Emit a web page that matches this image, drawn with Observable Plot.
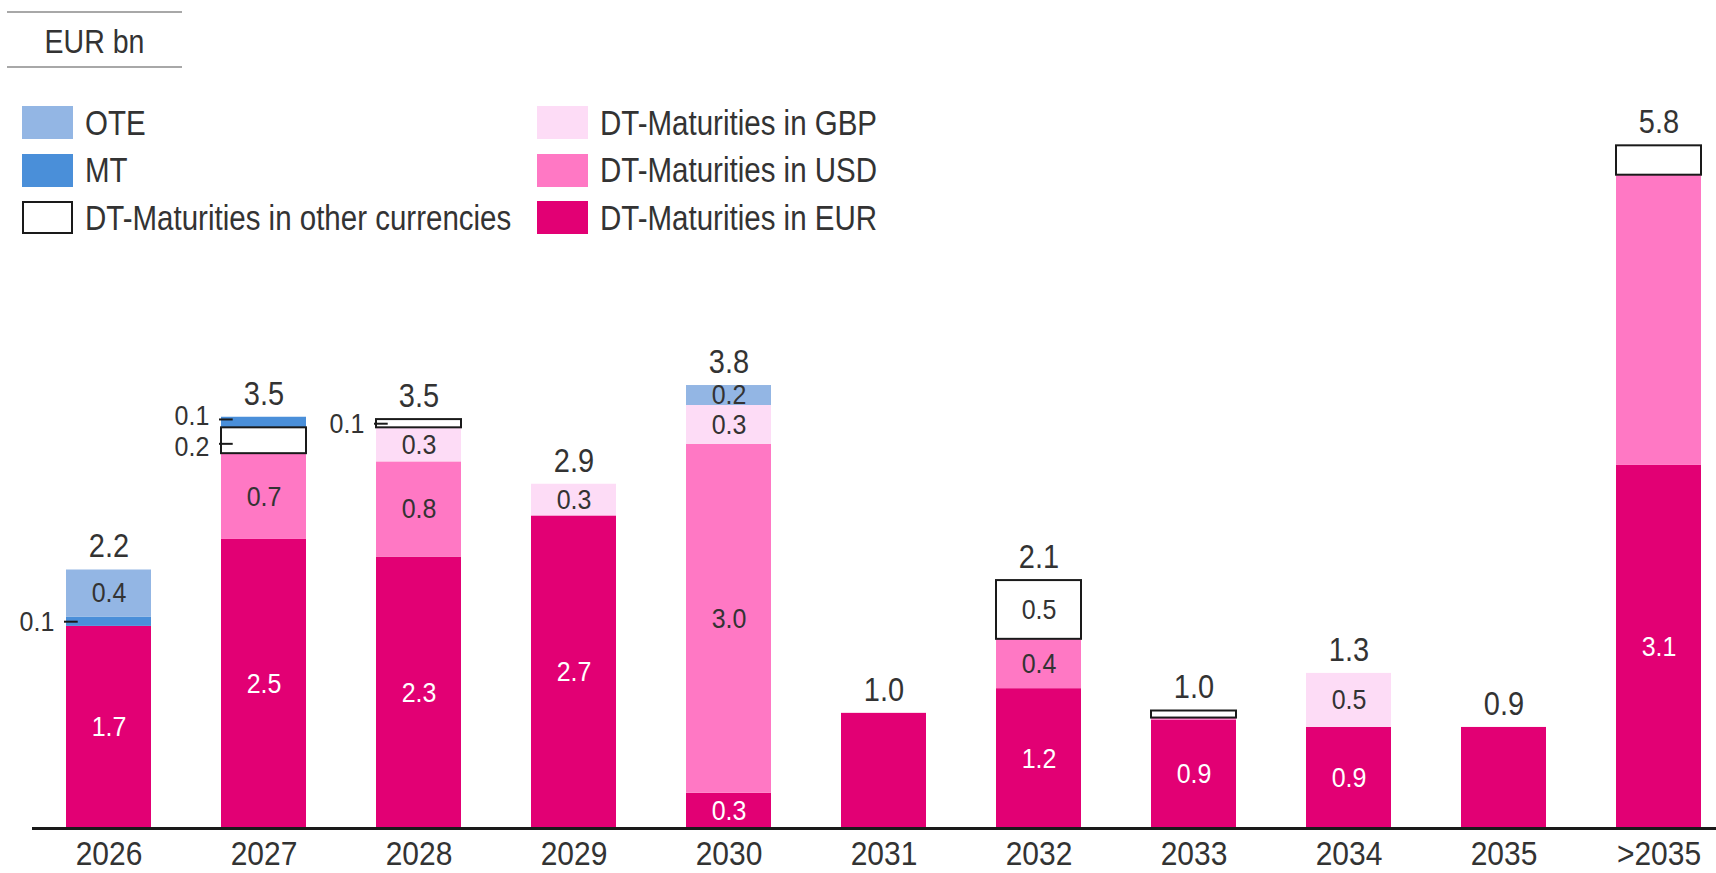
<!DOCTYPE html>
<html>
<head>
<meta charset="utf-8">
<script src="https://cdn.jsdelivr.net/npm/d3@7"></script>
<script src="https://cdn.jsdelivr.net/npm/@observablehq/plot@0.6"></script>
<style>
  html, body { margin: 0; padding: 0; background: #fff; }
  #wrap { position: relative; width: 1716px; height: 873px; overflow: hidden;
          font-family: "Liberation Sans", Arial, sans-serif; color: #333; }
  #chart { position: absolute; left: 0; top: 0; }
  #unit { position: absolute; left: 7px; top: 11px; width: 175px; height: 53px;
          border-top: 2px solid #a8a8a8; border-bottom: 2px solid #a8a8a8;
          display: flex; align-items: center; justify-content: center; font-size: 28.5px; }
  #unit .tx { position: relative; top: 2px; }
  .lg { position: absolute; display: flex; align-items: center; height: 33px;
        font-size: 29.5px; white-space: nowrap; }
  .sw { width: 51px; height: 33px; box-sizing: border-box; margin-right: 12px; flex: none; }
  .tx { display: inline-block; transform: scaleY(1.16); }
</style>
</head>
<body>
<div id="wrap">
  <div id="chart"></div>
  <div id="unit"><span class="tx" id="unitText"></span></div>
  <div id="legend"></div>
</div>
<script>
// ---------------- DATA ----------------
const years = ["2026", "2027", "2028", "2029", "2030", "2031", "2032", "2033", "2034", "2035", ">2035"];
const eur   = [1.72, 2.46, 2.31, 2.66, 0.30, 0.98, 1.19, 0.92, 0.86, 0.86, 3.09];
const usd   = [0,    0.73, 0.81, 0,    2.97, 0,    0.42, 0.02, 0,    0,    2.47];
const gbp   = [0,    0,    0.29, 0.27, 0.33, 0,    0,    0,    0.46, 0,    0];
const other = [0,    0.22, 0.07, 0,    0,    0,    0.50, 0.06, 0,    0,    0.25];
const mt    = [0.08, 0.09, 0,    0,    0,    0,    0,    0,    0,    0,    0];
const ote   = [0.40, 0,    0,    0,    0.17, 0,    0,    0,    0,    0,    0];

// stacking order, bottom to top
const seriesKeys  = ["EUR", "USD", "GBP", "other", "MT", "OTE"];
const seriesNames = ["DT-Maturities in EUR", "DT-Maturities in USD", "DT-Maturities in GBP",
                     "DT-Maturities in other currencies", "MT", "OTE"];
const legendOrder = ["OTE", "MT", "other", "GBP", "USD", "EUR"];
const unitLabel = "EUR bn";

// segments labelled outside the bar (with a leader) and segments left unlabelled
const calloutSegments   = [["2026", "MT"], ["2027", "other"], ["2027", "MT"], ["2028", "other"]];
const unlabeledSegments = [["2031", "EUR"], ["2035", "EUR"], [">2035", "USD"], [">2035", "other"]];

// ---------------- STYLE / LAYOUT ----------------
const seriesColors = { EUR: "#e20074", USD: "#ff78c4", GBP: "#fddcf6", other: "#ffffff", MT: "#4a8fd9", OTE: "#93b6e4" };
const W = 1716, H = 873, ML = 66, MR = 14, MTOP = 123, MB = 45, PAD = 0.45;
const step = (W - ML - MR) / (years.length - PAD);
const bw = step * (1 - PAD);
const minInside = 0.15, minLabelGap = 0.26;
const fmt = d3.format(".1f");

// ---------------- BUILD ----------------
const valuesByKey = { EUR: eur, USD: usd, GBP: gbp, other: other, MT: mt, OTE: ote };
const segments = [];
const totals = [];
years.forEach((year, i) => {
  let base = 0;
  seriesKeys.forEach(key => {
    const v = valuesByKey[key][i];
    if (v > 0) segments.push({ year, key, value: v, y1: base, y2: base + v, mid: base + v / 2 });
    base += v;
  });
  totals.push({ year, total: base });
});

const isIn = (list, d) => list.some(([y, k]) => y === d.year && k === d.key);
const inside = segments.filter(d => d.value >= minInside && !isIn(calloutSegments, d) && !isIn(unlabeledSegments, d));
const callouts = segments.filter(d => isIn(calloutSegments, d)).map(d => ({ ...d, labelY: d.mid }));
// spread callouts that are too close within one year
d3.groups(callouts, d => d.year).forEach(([, g]) => {
  g.sort((a, b) => a.mid - b.mid);
  for (let j = 1; j < g.length; j++) {
    const a = g[j - 1], b = g[j];
    if (b.labelY - a.labelY < minLabelGap) {
      const c = (a.labelY + b.labelY) / 2;
      a.labelY = c - minLabelGap / 2;
      b.labelY = c + minLabelGap / 2;
    }
  }
});
callouts.forEach(d => { d.leaderY = (d.labelY + d.mid) / 2; });

const chart = Plot.plot({
  width: W, height: H,
  marginLeft: ML, marginRight: MR, marginTop: MTOP, marginBottom: MB,
  style: { fontFamily: '"Liberation Sans", Arial, sans-serif', fontSize: "30px", color: "#333", background: "#fff", overflow: "visible" },
  x: { domain: years, paddingInner: PAD, paddingOuter: 0, tickSize: 0, tickPadding: 13, label: null },
  y: { domain: [0, 6], axis: null },
  color: { domain: seriesKeys, range: seriesKeys.map(k => seriesColors[k]) },
  marks: [
    Plot.barY(segments, { x: "year", y1: "y1", y2: "y2", fill: "key" }),
    Plot.barY(segments.filter(d => d.key === "other"), { x: "year", y1: "y1", y2: "y2", fill: "none", stroke: "#1a1a1a", strokeWidth: 2 }),
    Plot.ruleY([0], { stroke: "#1a1a1a", strokeWidth: 3, insetLeft: -(ML - 32), insetRight: -MR }),
    Plot.text(inside.filter(d => d.key === "EUR"), { x: "year", y: "mid", text: d => fmt(d.value), fontSize: 25, fill: "#fff" }),
    Plot.text(inside.filter(d => d.key !== "EUR"), { x: "year", y: "mid", text: d => fmt(d.value), fontSize: 25, fill: "#333" }),
    Plot.text(totals, { x: "year", y: "total", text: d => fmt(d.total), dy: -23, fontSize: 29, fill: "#333" }),
    Plot.text(callouts, { x: "year", y: "labelY", text: d => fmt(d.value), textAnchor: "end", dx: -(bw / 2 + 12), fontSize: 25, fill: "#333" }),
    Plot.tickY(callouts, { x: "year", y: "leaderY", insetLeft: -2, insetRight: bw - 12, stroke: "#1a1a1a", strokeWidth: 2 })
  ]
});

// slightly condensed look of the original typeface
d3.select(chart).selectAll("text").each(function () {
  const t = this.getAttribute("transform");
  if (t && /translate/.test(t)) this.setAttribute("transform", t + " scale(1,1.12)");
});
document.getElementById("chart").appendChild(chart);

// ---------------- UNIT + LEGEND ----------------
document.getElementById("unitText").textContent = unitLabel;
const legend = document.getElementById("legend");
legendOrder.forEach((key, i) => {
  const col = Math.floor(i / 3), row = i % 3;
  const item = document.createElement("div");
  item.className = "lg";
  item.style.left = (col ? 537 : 22) + "px";
  item.style.top = (106 + row * 47.6) + "px";
  const sw = document.createElement("div");
  sw.className = "sw";
  sw.style.background = seriesColors[key];
  if (key === "other") sw.style.border = "2px solid #1a1a1a";
  const tx = document.createElement("span");
  tx.className = "tx";
  tx.textContent = seriesNames[seriesKeys.indexOf(key)];
  item.appendChild(sw);
  item.appendChild(tx);
  legend.appendChild(item);
});
</script>
</body>
</html>
